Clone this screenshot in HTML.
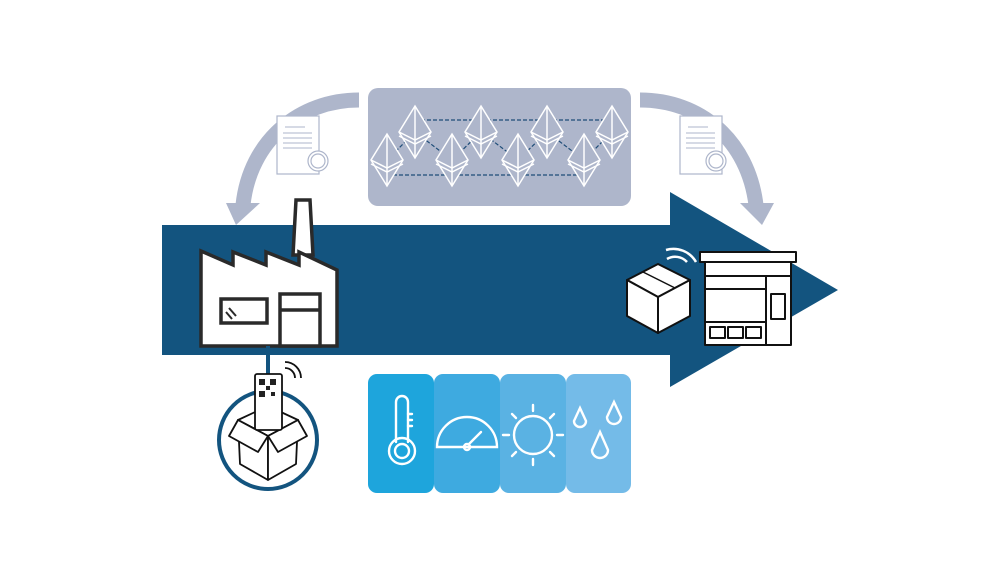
<!DOCTYPE html>
<html><head><meta charset="utf-8"><style>
html,body{margin:0;padding:0;background:#fff;}
svg{display:block;}
</style></head><body>
<svg width="1000" height="563" viewBox="0 0 1000 563" xmlns="http://www.w3.org/2000/svg">
<rect width="1000" height="563" fill="#fff"/>
<!-- curved arrows -->
<path d="M359,100 C300,100 250,140 243,205" fill="none" stroke="#aeb6cb" stroke-width="15"/>
<polygon points="226,203 260,203 236,225" fill="#aeb6cb"/>
<path d="M640,100 C700,100 748,140 756,205" fill="none" stroke="#aeb6cb" stroke-width="15"/>
<polygon points="740,203 774,203 762,225" fill="#aeb6cb"/>
<!-- certificates -->
<g fill="#fff" stroke="#aeb6cb" stroke-width="1.2">
<rect x="277" y="116" width="42" height="58"/>
<rect x="680" y="116" width="42" height="58"/>
<circle cx="318" cy="161" r="10"/><circle cx="318" cy="161" r="7"/>
<circle cx="716" cy="161" r="10"/><circle cx="716" cy="161" r="7"/>
</g>
<g stroke="#aeb6cb" stroke-width="1">
<line x1="285" y1="127" x2="305" y2="127"/><line x1="283" y1="133" x2="312" y2="133"/><line x1="283" y1="138" x2="312" y2="138"/><line x1="283" y1="143" x2="312" y2="143"/><line x1="283" y1="148" x2="312" y2="148"/>
<line x1="688" y1="127" x2="708" y2="127"/><line x1="686" y1="133" x2="715" y2="133"/><line x1="686" y1="138" x2="715" y2="138"/><line x1="686" y1="143" x2="715" y2="143"/><line x1="686" y1="148" x2="715" y2="148"/>
</g>
<!-- blockchain box -->
<rect x="368" y="88" width="263" height="118" rx="10" fill="#aeb6cb"/>
<g stroke="#1f4d78" stroke-width="1.2" stroke-dasharray="4,2" fill="none">
<line x1="415" y1="120" x2="612" y2="120"/>
<line x1="387" y1="175" x2="584" y2="175"/>
<polyline points="387,160 415,132 452,160 481,132 518,160 547,132 584,160 612,132"/>
</g>
<defs><g id="eth"><polygon points="0,-26 16,0 0,26 -16,0"/><polyline points="-16,0 0,8 16,0" fill="none"/><line x1="0" y1="-26" x2="0" y2="26"/><polyline points="-16,4 0,12 16,4" fill="none"/></g></defs>
<g fill="#aeb6cb" stroke="#fff" stroke-width="1.5" stroke-linejoin="miter">
<use href="#eth" x="415" y="132"/><use href="#eth" x="481" y="132"/><use href="#eth" x="547" y="132"/><use href="#eth" x="612" y="132"/>
<use href="#eth" x="387" y="160"/><use href="#eth" x="452" y="160"/><use href="#eth" x="518" y="160"/><use href="#eth" x="584" y="160"/>
</g>
<!-- main arrow -->
<polygon points="162,225 670,225 670,192 838,290 670,387 670,355 162,355" fill="#13547f"/>
<!-- factory -->
<g fill="#fff" stroke="#2a2a2a" stroke-width="3.5" stroke-linejoin="miter">
<polygon points="296,200 310,200 313,255 293,255"/>
<polygon points="201,251 233,265 233,252 266,265 266,252 299,265 299,252 337,270 337,346 201,346"/>
<rect x="221" y="299" width="46" height="24"/>
<rect x="280" y="294" width="40" height="52"/>
<line x1="280" y1="310" x2="320" y2="310"/>
</g>
<line x1="229" y1="308" x2="236" y2="316" stroke="#2a2a2a" stroke-width="2"/><line x1="226" y1="312" x2="232" y2="319" stroke="#2a2a2a" stroke-width="2"/>
<!-- package circle -->
<line x1="268" y1="346" x2="268" y2="420" stroke="#13547f" stroke-width="4"/>
<circle cx="268" cy="440" r="49" fill="#fff" stroke="#13547f" stroke-width="4"/>
<g fill="#fff" stroke="#111" stroke-width="1.8" stroke-linejoin="round">
<polygon points="238,420 268,406 298,420 268,436"/>
<polygon points="238,420 268,436 268,480 240,464"/>
<polygon points="298,420 268,436 268,480 296,464"/>
<polygon points="238,420 229,436 258,452 268,436"/>
<polygon points="298,420 307,436 278,452 268,436"/>
<rect x="255" y="374" width="27" height="56" rx="2"/>
</g>
<g fill="#222"><rect x="259" y="379" width="6" height="6"/><rect x="270" y="379" width="6" height="6"/><rect x="259" y="391" width="6" height="6"/><rect x="266" y="386" width="4" height="4"/><rect x="271" y="392" width="4" height="4"/></g>
<path d="M285,368 a10,10 0 0 1 10,10 M285,362 a16,16 0 0 1 16,16" fill="none" stroke="#111" stroke-width="1.8"/>
<!-- sensor tiles -->
<rect x="368" y="374" width="66" height="119" rx="9" fill="#1ea5dc"/>
<rect x="434" y="374" width="66" height="119" rx="9" fill="#3eaae0"/>
<rect x="500" y="374" width="66" height="119" rx="9" fill="#5ab2e3"/>
<rect x="566" y="374" width="65" height="119" rx="9" fill="#74bbe8"/>
<g fill="none" stroke="#fff" stroke-width="2.4" stroke-linecap="round">
<path d="M396,442 V402 a6,6 0 0 1 12,0 V442"/><circle cx="402" cy="451" r="13"/><circle cx="402" cy="451" r="7"/>
<line x1="408" y1="414" x2="412" y2="414"/><line x1="408" y1="420" x2="412" y2="420"/><line x1="408" y1="426" x2="412" y2="426"/>
<path d="M437,447 a30,30 0 0 1 60,0 Z"/><circle cx="467" cy="447" r="3"/><line x1="469" y1="444" x2="481" y2="432"/>
<circle cx="533" cy="435" r="19"/>
<line x1="533" y1="405" x2="533" y2="411"/><line x1="533" y1="459" x2="533" y2="465"/><line x1="503" y1="435" x2="509" y2="435"/><line x1="557" y1="435" x2="563" y2="435"/>
<line x1="512" y1="414" x2="516" y2="418"/><line x1="550" y1="452" x2="554" y2="456"/><line x1="554" y1="414" x2="550" y2="418"/><line x1="516" y1="452" x2="512" y2="456"/>
<path d="M580,408 l-6,13 a6,6 0 1 0 12,0 Z"/><path d="M614,402 l-7,15 a7,7 0 1 0 14,0 Z"/><path d="M600,432 l-8,18 a8,8 0 1 0 16,0 Z"/>
</g>
<!-- parcel + store -->
<g fill="#fff" stroke="#111" stroke-width="2" stroke-linejoin="round">
<polygon points="627,280 658,264 690,280 658,297"/>
<polygon points="627,280 658,297 658,333 627,316"/>
<polygon points="690,280 658,297 658,333 690,316"/>
<rect x="700" y="252" width="96" height="10"/>
<rect x="705" y="262" width="86" height="83"/>
<line x1="705" y1="276" x2="791" y2="276"/><line x1="705" y1="289" x2="766" y2="289"/>
<line x1="766" y1="276" x2="766" y2="345"/><line x1="705" y1="322" x2="766" y2="322"/>
<rect x="771" y="294" width="14" height="25"/>
<rect x="710" y="327" width="15" height="11"/><rect x="728" y="327" width="15" height="11"/><rect x="746" y="327" width="15" height="11"/>
</g>
<line x1="643" y1="272" x2="675" y2="288" stroke="#111" stroke-width="1.5"/>
<path d="M667,259 a16,16 0 0 1 20,3 M666,250 a26,26 0 0 1 30,12" fill="none" stroke="#fff" stroke-width="2.5"/>
</svg>
</body></html>
